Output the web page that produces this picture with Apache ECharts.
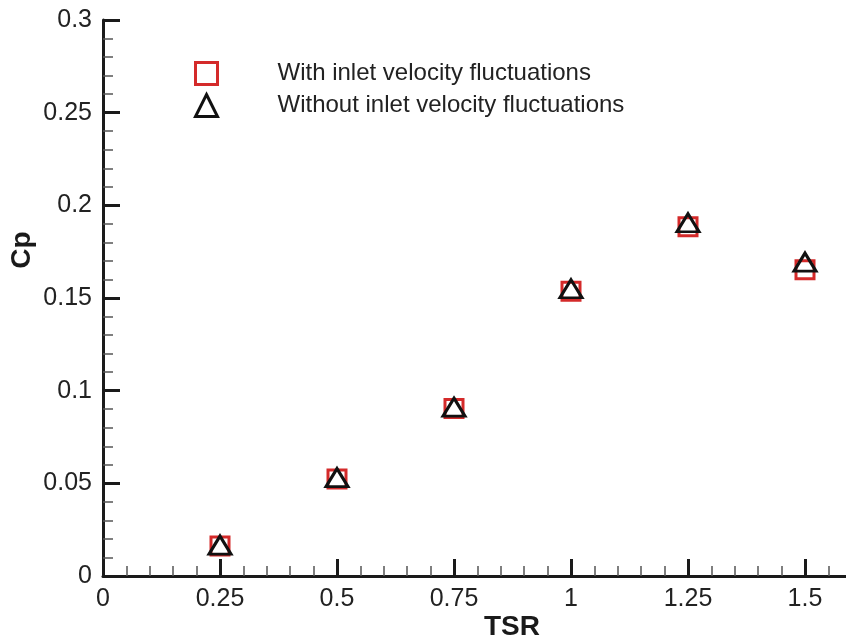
<!DOCTYPE html>
<html>
<head>
<meta charset="utf-8">
<script src="https://cdn.jsdelivr.net/npm/echarts@6/dist/echarts.min.js"></script>
<style>
html,body{margin:0;padding:0;background:#fff;}
#chart{width:846px;height:642px;}
</style>
</head>
<body>
<div id="chart"></div>
<script>
const tsr = [0.25, 0.5, 0.75, 1, 1.25, 1.5];
const cpWith = [0.0162, 0.0523, 0.0904, 0.1537, 0.1884, 0.1652];
const cpWithout = [0.0167, 0.0531, 0.0911, 0.155, 0.1906, 0.1694];
const seriesNames = ['With inlet velocity fluctuations', 'Without inlet velocity fluctuations'];
const xTitle = 'TSR';
const yTitle = 'Cp';

const font = '"Liberation Sans", Arial, Helvetica, sans-serif';
const axisColor = '#1a1a1a';
const red = '#d42a2a';
const chart = echarts.init(document.getElementById('chart'), null, {renderer: 'canvas'});

function axisCommon() {
  return {
    axisLine: {show: true, lineStyle: {color: axisColor, width: 3}},
    axisTick: {show: true, inside: true, length: 17, lineStyle: {color: axisColor, width: 3}},
    minorTick: {show: true, splitNumber: 5, length: 10, lineStyle: {color: '#555', width: 1.5}},
    splitLine: {show: false},
    minorSplitLine: {show: false},
    axisLabel: {color: '#222', fontSize: 25, fontFamily: font, margin: 11}
  };
}

const option = {
  backgroundColor: '#fff',
  animation: false,
  grid: {left: 103, top: 20, right: -76, bottom: 66, containLabel: false, outerBoundsMode: 'none'},
  xAxis: Object.assign(axisCommon(), {
    type: 'value', min: 0, max: 1.75, interval: 0.25
  }),
  yAxis: Object.assign(axisCommon(), {
    type: 'value', min: 0, max: 0.3, interval: 0.05
  }),
  legend: {
    orient: 'vertical', left: 189, top: 56,
    itemWidth: 22, itemHeight: 22, itemGap: 7,
    textStyle: {color: '#222', fontSize: 24, lineHeight: 22, fontFamily: font, padding: [0, 0, 0, 55]},
    data: [
      {name: seriesNames[0], itemStyle: {color: 'rgba(255,255,255,0)', borderColor: red, borderWidth: 3}},
      {name: seriesNames[1], itemStyle: {color: 'rgba(255,255,255,0)', borderColor: '#111', borderWidth: 3}}
    ]
  },
  graphic: [
    {type: 'text', x: 512, y: 627,
     style: {text: xTitle, font: 'bold 28px ' + font, fill: '#1a1a1a', textAlign: 'center', textVerticalAlign: 'middle'}},
    {type: 'text', x: 22, y: 250, rotation: Math.PI / 2,
     style: {text: yTitle, font: 'bold 28px ' + font, fill: '#1a1a1a', textAlign: 'center', textVerticalAlign: 'middle'}}
  ],
  series: [
    {
      name: seriesNames[0], type: 'scatter', symbol: 'rect', symbolSize: 18,
      data: tsr.map((x, i) => [x, cpWith[i]]),
      itemStyle: {color: 'rgba(255,255,255,0)', borderColor: red, borderWidth: 3, opacity: 1},
      z: 2
    },
    {
      name: seriesNames[1], type: 'scatter', symbol: 'triangle', symbolSize: [22, 18],
      data: tsr.map((x, i) => [x, cpWithout[i]]),
      itemStyle: {color: 'rgba(255,255,255,0)', borderColor: '#111', borderWidth: 3, opacity: 1},
      z: 3
    }
  ]
};
chart.setOption(option);
</script>
</body>
</html>
